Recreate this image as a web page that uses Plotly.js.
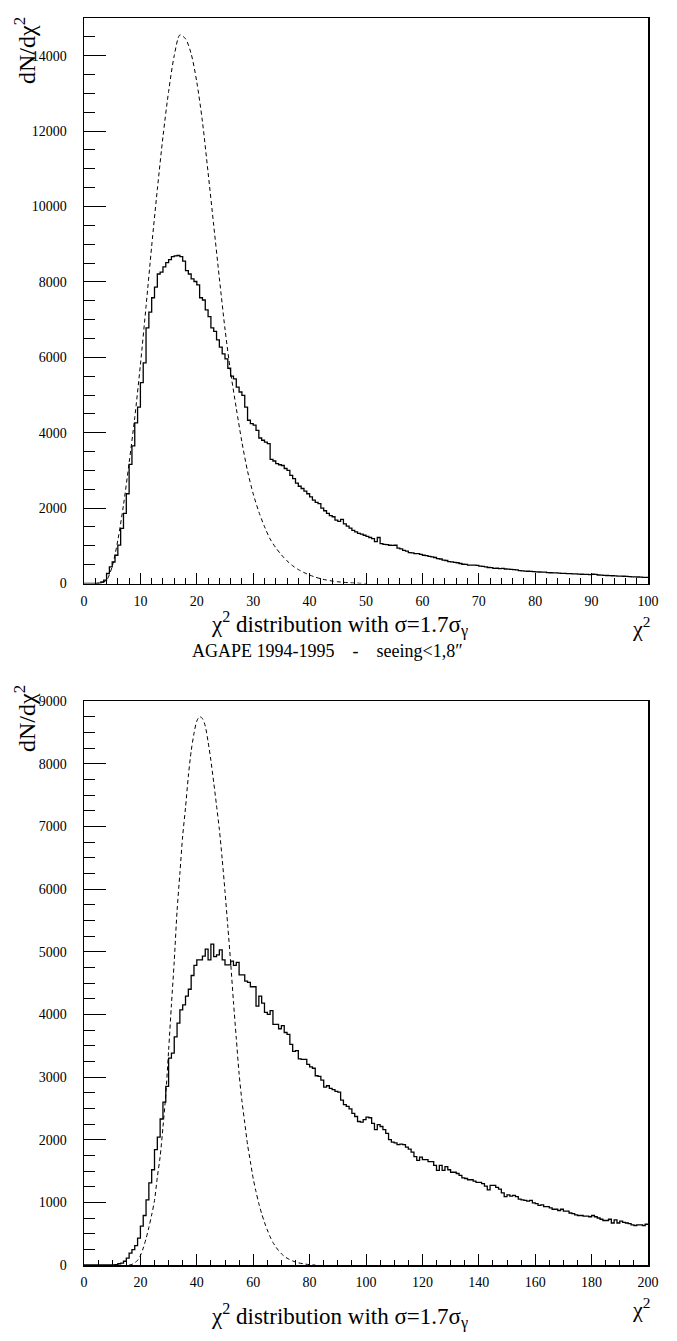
<!DOCTYPE html>
<html>
<head>
<meta charset="utf-8">
<script src="https://cdn.plot.ly/plotly-3.0.1.min.js"></script>
<style>html,body{margin:0;padding:0;background:#fff;}#plot{width:677px;height:1341px;}</style>
</head>
<body>
<div id="plot"></div>
<script>
// ---- Top panel: histogram (bin width 0.5, 0..100) ----
var topBinWidth = 0.5;
var topHist = [
  0,0,0,0,0,10,40,90,265,440,
  570,750,1020,1460,1860,2380,3160,3650,4260,4680,
  5330,5850,6780,7200,7580,7860,8210,8260,8400,8510,
  8590,8670,8690,8700,8670,8550,8300,8210,8080,8010,
  7920,7580,7520,7260,7080,6780,6690,6460,6270,6090,
  5960,5710,5500,5430,5210,5080,4990,4680,4330,4240,
  4200,4060,3860,3800,3750,3710,3290,3250,3180,3150,
  3130,3050,3000,2870,2780,2660,2580,2520,2450,2380,
  2300,2210,2150,2120,2000,1930,1860,1800,1770,1680,
  1650,1700,1580,1520,1470,1410,1370,1330,1310,1280,
  1250,1220,1190,1110,1220,1060,1040,1030,1015,1010,
  1015,940,920,880,860,820,810,795,790,770,
  750,740,720,705,690,660,650,620,610,580,
  575,560,550,530,510,505,490,485,490,480,
  460,455,440,425,420,400,405,395,400,385,
  380,375,370,360,340,335,330,325,320,315,
  310,305,300,300,290,285,280,282,275,270,
  268,262,260,255,255,250,245,242,240,238,
  245,240,225,220,215,212,210,205,200,198,
  195,192,188,185,178,175,172,170,165,160
];
// Top panel: dashed theoretical curve
var topCurveX = [2,3,4,5,6,7,8,9,10,11,12,13,14,15,16,17,18,19,20,21,22,23,24,25,26,27,28,29,30,31,32,33,34,35,36,37,38,39,40,41,42,43,44,45,46,47,48,50];
var topCurveY = [0,15,90,450,1150,2080,3200,4400,5800,7350,8950,10450,11850,13050,14000,14550,14450,14050,13300,12250,10900,9500,8100,6750,5600,4650,3750,2980,2380,1900,1510,1180,950,760,600,470,370,290,225,170,125,92,66,46,31,20,12,0];

// ---- Bottom panel: histogram (bin width 1, 0..200) ----
var botBinWidth = 1;
var botHist = [
  0,0,0,0,0,0,0,0,0,0,
  0,5,20,30,60,110,190,245,310,430,
  620,790,1040,1310,1520,1840,2040,2330,2600,2850,
  3300,3380,3640,3860,4070,4150,4290,4400,4620,4780,
  4870,4870,4930,5040,4870,5120,4920,4950,5030,4870,
  4790,4790,4850,4780,4830,4630,4630,4530,4510,4440,
  4440,4130,4290,4180,4030,4000,4060,3840,3840,3770,
  3820,3710,3680,3520,3410,3420,3290,3280,3280,3200,
  3160,3140,3020,3010,2950,2840,2860,2820,2800,2770,
  2760,2630,2560,2530,2490,2420,2370,2290,2280,2320,
  2360,2350,2260,2160,2240,2210,2160,2100,2000,1960,
  1950,1920,1930,1920,1880,1850,1800,1730,1670,1720,
  1680,1680,1650,1650,1590,1510,1590,1510,1570,1520,
  1480,1480,1460,1430,1390,1380,1360,1360,1340,1320,
  1320,1300,1260,1200,1270,1270,1240,1210,1150,1090,
  1120,1100,1110,1090,1050,1040,1030,1020,1030,990,
  980,950,960,930,930,910,890,890,870,890,
  860,860,830,820,800,790,790,780,780,770,
  790,770,750,730,710,710,730,670,720,670,
  700,680,670,660,640,630,640,640,630,650
];
var botCurveX = [16,17,18,19,20,21,22,23,24,25,26,27,28,29,30,31,32,33,34,35,36,37,38,39,40,41,42,43,44,45,46,47,48,49,50,51,52,53,54,55,56,57,58,59,60,61,62,63,64,65,66,67,68,69,70,71,72,73,74,75,76,78,80,82];
var botCurveY = [0,10,35,75,150,270,420,600,800,1030,1400,1730,2200,2720,3420,4150,4850,5650,6250,6850,7300,7800,8200,8480,8680,8750,8720,8600,8350,8050,7700,7330,6950,6480,5960,5400,4830,4200,3620,3050,2620,2270,1920,1650,1380,1170,980,820,680,560,450,360,290,230,180,140,110,85,65,48,35,18,5,0];

// Text
var yTitle = "dN/dχ<sup>2</sup>";
var xTitle = "χ<sup>2</sup>";
var panelTitle = "χ<sup>2</sup> distribution with σ=1.7σ<sub>γ</sub>";
var subTitle = "AGAPE 1994-1995    -    seeing&lt;1,8″";

function histXY(vals, w) {
  var xs = [], ys = [];
  for (var i = 0; i < vals.length; i++) { xs.push(i * w); ys.push(vals[i]); }
  xs.push(vals.length * w); ys.push(vals[vals.length - 1]);
  return {x: xs, y: ys};
}

var W = 677, H = 1341;
var FONT = "'Liberation Serif', 'Times New Roman', 'DejaVu Serif', serif";
var px = function (v) { return v / W; };
var py = function (v) { return 1 - v / H; };

var h1 = histXY(topHist, topBinWidth);
var h2 = histXY(botHist, botBinWidth);

var traces = [
  {x: h1.x, y: h1.y, type: 'scatter', mode: 'lines', line: {shape: 'hv', color: '#000', width: 1.3}, xaxis: 'x', yaxis: 'y', hoverinfo: 'skip'},
  {x: topCurveX, y: topCurveY, type: 'scatter', mode: 'lines', line: {shape: 'spline', smoothing: 0.8, color: '#000', width: 1, dash: '4px,3px'}, xaxis: 'x', yaxis: 'y', hoverinfo: 'skip'},
  {x: h2.x, y: h2.y, type: 'scatter', mode: 'lines', line: {shape: 'hv', color: '#000', width: 1.3}, xaxis: 'x2', yaxis: 'y2', hoverinfo: 'skip'},
  {x: botCurveX, y: botCurveY, type: 'scatter', mode: 'lines', line: {shape: 'spline', smoothing: 0.8, color: '#000', width: 1, dash: '4px,3px'}, xaxis: 'x2', yaxis: 'y2', hoverinfo: 'skip'}
];

function xAx(range, dtick, mdtick, anchor) {
  return {
    range: range, domain: [px(84), px(648)], anchor: anchor,
    showgrid: false, zeroline: false, showline: true, linecolor: '#000', linewidth: 1.5, mirror: true,
    ticks: 'inside', ticklen: 11, tickwidth: 1, tickcolor: '#000', dtick: dtick, tick0: 0, tickformat: 'd',
    minor: {ticks: 'inside', ticklen: 5.5, dtick: mdtick, tick0: 0, tickcolor: '#000', tickwidth: 1, showgrid: false},
    tickfont: {family: FONT, size: 14, color: '#000'}, ticklabelstandoff: 4, fixedrange: true
  };
}
function yAx(range, dtick, mdtick, anchor, dom) {
  return {
    range: range, domain: dom, anchor: anchor,
    showgrid: false, zeroline: false, showline: true, linecolor: '#000', linewidth: 1.5, mirror: true,
    ticks: 'inside', ticklen: 22, tickwidth: 1, tickcolor: '#000', dtick: dtick, tick0: 0, tickformat: 'd',
    minor: {ticks: 'inside', ticklen: 11, dtick: mdtick, tick0: 0, tickcolor: '#000', tickwidth: 1, showgrid: false},
    tickfont: {family: FONT, size: 14, color: '#000'}, ticklabelstandoff: 13, fixedrange: true
  };
}

var ann = function (x, y, text, size, extra) {
  var a = {xref: 'paper', yref: 'paper', x: px(x), y: py(y), text: text, showarrow: false,
    font: {family: FONT, size: size, color: '#000'}, xanchor: 'center', yanchor: 'middle'};
  for (var k in extra) a[k] = extra[k];
  return a;
};

var layout = {
  width: W, height: H,
  margin: {l: 0, r: 0, t: 0, b: 0, pad: 0},
  paper_bgcolor: '#fff', plot_bgcolor: '#fff',
  font: {family: FONT, color: '#000'},
  showlegend: false,
  xaxis: xAx([0, 100], 10, 2, 'y'),
  yaxis: yAx([0, 15000], 2000, 500, 'x', [py(583.5), py(18)]),
  xaxis2: xAx([0, 200], 20, 5, 'y2'),
  yaxis2: yAx([0, 9000], 1000, 250, 'x2', [py(1265), py(701)]),
  annotations: [
    ann(25, 51, yTitle, 24, {textangle: -90}),
    ann(25, 719, yTitle, 24, {textangle: -90}),
    ann(641, 627, xTitle, 22),
    ann(641, 1308, xTitle, 22),
    ann(339, 624, panelTitle, 23),
    ann(327, 651, subTitle, 18),
    ann(339, 1316, panelTitle, 23)
  ]
};

Plotly.newPlot('plot', traces, layout, {staticPlot: true, displayModeBar: false});
</script>
</body>
</html>
